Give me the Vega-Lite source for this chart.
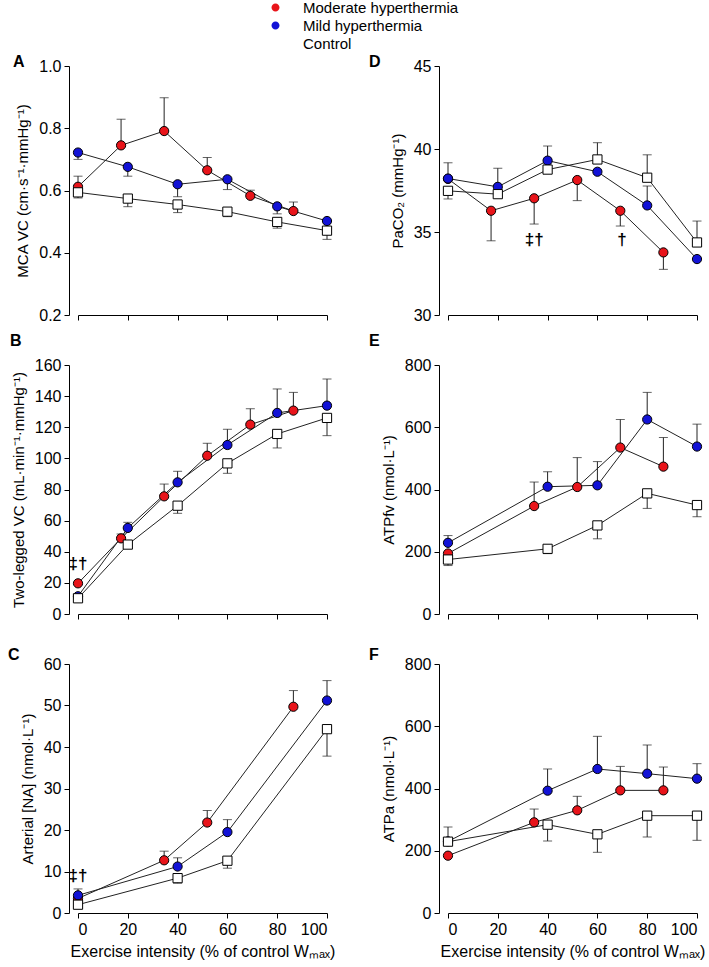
{
  "$schema": "https://vega.github.io/schema/vega-lite/v6.json",
  "background": "white",
  "padding": {"left": 8, "top": 0, "right": 5, "bottom": 5},
  "bounds": "flush",
  "columns": 2,
  "spacing": {"row": 50, "column": 121},
  "datasets": {
    "d": [
      {"p": "A", "g": "Moderate hyperthermia", "x": 0, "y": 0.612, "e": 0.646},
      {"p": "A", "g": "Moderate hyperthermia", "x": 17.3, "y": 0.745, "e": 0.829},
      {"p": "A", "g": "Moderate hyperthermia", "x": 34.6, "y": 0.791, "e": 0.898},
      {"p": "A", "g": "Moderate hyperthermia", "x": 51.9, "y": 0.665, "e": 0.706},
      {"p": "A", "g": "Moderate hyperthermia", "x": 69.2, "y": 0.583, "e": 0.601},
      {"p": "A", "g": "Moderate hyperthermia", "x": 86.5, "y": 0.534, "e": 0.563},
      {"p": "A", "g": "Mild hyperthermia", "x": 0, "y": 0.722, "e": 0.70},
      {"p": "A", "g": "Mild hyperthermia", "x": 20, "y": 0.676, "e": 0.646},
      {"p": "A", "g": "Mild hyperthermia", "x": 40, "y": 0.620, "e": 0.580},
      {"p": "A", "g": "Mild hyperthermia", "x": 60, "y": 0.636, "e": 0.603},
      {"p": "A", "g": "Mild hyperthermia", "x": 80, "y": 0.549, "e": 0.525},
      {"p": "A", "g": "Mild hyperthermia", "x": 100, "y": 0.502, "e": null},
      {"p": "A", "g": "Control", "x": 0, "y": 0.594, "e": 0.576},
      {"p": "A", "g": "Control", "x": 20, "y": 0.574, "e": 0.548},
      {"p": "A", "g": "Control", "x": 40, "y": 0.555, "e": 0.529},
      {"p": "A", "g": "Control", "x": 60, "y": 0.532, "e": 0.516},
      {"p": "A", "g": "Control", "x": 80, "y": 0.499, "e": 0.479},
      {"p": "A", "g": "Control", "x": 100, "y": 0.471, "e": 0.443},

      {"p": "D", "g": "Moderate hyperthermia", "x": 0, "y": 38.2, "e": null},
      {"p": "D", "g": "Moderate hyperthermia", "x": 17.3, "y": 36.28, "e": 34.47},
      {"p": "D", "g": "Moderate hyperthermia", "x": 34.6, "y": 37.03, "e": 35.48},
      {"p": "D", "g": "Moderate hyperthermia", "x": 51.9, "y": 38.13, "e": 36.89},
      {"p": "D", "g": "Moderate hyperthermia", "x": 69.2, "y": 36.28, "e": 35.36},
      {"p": "D", "g": "Moderate hyperthermia", "x": 86.5, "y": 33.77, "e": 32.75},
      {"p": "D", "g": "Mild hyperthermia", "x": 0, "y": 38.22, "e": 39.17},
      {"p": "D", "g": "Mild hyperthermia", "x": 20, "y": 37.72, "e": 38.84},
      {"p": "D", "g": "Mild hyperthermia", "x": 40, "y": 39.30, "e": 40.18},
      {"p": "D", "g": "Mild hyperthermia", "x": 60, "y": 38.63, "e": null},
      {"p": "D", "g": "Mild hyperthermia", "x": 80, "y": 36.6, "e": 37.77},
      {"p": "D", "g": "Mild hyperthermia", "x": 100, "y": 33.37, "e": null},
      {"p": "D", "g": "Control", "x": 0, "y": 37.48, "e": 36.99},
      {"p": "D", "g": "Control", "x": 20, "y": 37.28, "e": null},
      {"p": "D", "g": "Control", "x": 40, "y": 38.76, "e": null},
      {"p": "D", "g": "Control", "x": 60, "y": 39.37, "e": 40.38},
      {"p": "D", "g": "Control", "x": 80, "y": 38.27, "e": 39.65},
      {"p": "D", "g": "Control", "x": 100, "y": 34.37, "e": 35.66},

      {"p": "B", "g": "Moderate hyperthermia", "x": 0, "y": 19.7, "e": null},
      {"p": "B", "g": "Moderate hyperthermia", "x": 17.3, "y": 48.6, "e": 51.4},
      {"p": "B", "g": "Moderate hyperthermia", "x": 34.6, "y": 75.6, "e": 83.5},
      {"p": "B", "g": "Moderate hyperthermia", "x": 51.9, "y": 101.7, "e": 109.7},
      {"p": "B", "g": "Moderate hyperthermia", "x": 69.2, "y": 121.7, "e": 131.9},
      {"p": "B", "g": "Moderate hyperthermia", "x": 86.5, "y": 130.7, "e": 142.4},
      {"p": "B", "g": "Mild hyperthermia", "x": 0, "y": 11.4, "e": null},
      {"p": "B", "g": "Mild hyperthermia", "x": 20, "y": 55.3, "e": 58.9},
      {"p": "B", "g": "Mild hyperthermia", "x": 40, "y": 84.6, "e": 91.7},
      {"p": "B", "g": "Mild hyperthermia", "x": 60, "y": 108.6, "e": 118.7},
      {"p": "B", "g": "Mild hyperthermia", "x": 80, "y": 129.2, "e": 144.6},
      {"p": "B", "g": "Mild hyperthermia", "x": 100, "y": 133.9, "e": 151.0},
      {"p": "B", "g": "Control", "x": 0, "y": 10.1, "e": null},
      {"p": "B", "g": "Control", "x": 20, "y": 44.6, "e": null},
      {"p": "B", "g": "Control", "x": 40, "y": 69.6, "e": 64.7},
      {"p": "B", "g": "Control", "x": 60, "y": 96.8, "e": 90.4},
      {"p": "B", "g": "Control", "x": 80, "y": 115.7, "e": 106.7},
      {"p": "B", "g": "Control", "x": 100, "y": 126.0, "e": 114.6},

      {"p": "E", "g": "Moderate hyperthermia", "x": 0, "y": 194.4, "e": null},
      {"p": "E", "g": "Moderate hyperthermia", "x": 34.6, "y": 346.8, "e": 424},
      {"p": "E", "g": "Moderate hyperthermia", "x": 51.9, "y": 408, "e": 502.5},
      {"p": "E", "g": "Moderate hyperthermia", "x": 69.2, "y": 534.8, "e": 625},
      {"p": "E", "g": "Moderate hyperthermia", "x": 86.5, "y": 473.5, "e": 567},
      {"p": "E", "g": "Mild hyperthermia", "x": 0, "y": 228.7, "e": 252},
      {"p": "E", "g": "Mild hyperthermia", "x": 40, "y": 409, "e": 457},
      {"p": "E", "g": "Mild hyperthermia", "x": 60, "y": 413.4, "e": 489.7},
      {"p": "E", "g": "Mild hyperthermia", "x": 80, "y": 625, "e": 712},
      {"p": "E", "g": "Mild hyperthermia", "x": 100, "y": 538, "e": 610},
      {"p": "E", "g": "Control", "x": 0, "y": 175, "e": 155.7},
      {"p": "E", "g": "Control", "x": 40, "y": 209.4, "e": 194},
      {"p": "E", "g": "Control", "x": 60, "y": 284.6, "e": 241.6},
      {"p": "E", "g": "Control", "x": 80, "y": 387.6, "e": 339.3},
      {"p": "E", "g": "Control", "x": 100, "y": 350, "e": 312.5},

      {"p": "C", "g": "Moderate hyperthermia", "x": 0, "y": 3.5, "e": null},
      {"p": "C", "g": "Moderate hyperthermia", "x": 34.6, "y": 12.7, "e": 14.9},
      {"p": "C", "g": "Moderate hyperthermia", "x": 51.9, "y": 21.8, "e": 24.7},
      {"p": "C", "g": "Moderate hyperthermia", "x": 86.5, "y": 49.7, "e": 53.6},
      {"p": "C", "g": "Mild hyperthermia", "x": 0, "y": 4.26, "e": 5.8},
      {"p": "C", "g": "Mild hyperthermia", "x": 40, "y": 11.2, "e": 13.3},
      {"p": "C", "g": "Mild hyperthermia", "x": 60, "y": 19.5, "e": 22.5},
      {"p": "C", "g": "Mild hyperthermia", "x": 100, "y": 51.2, "e": 56.0},
      {"p": "C", "g": "Control", "x": 0, "y": 2.0, "e": null},
      {"p": "C", "g": "Control", "x": 40, "y": 8.4, "e": 7.2},
      {"p": "C", "g": "Control", "x": 60, "y": 12.6, "e": 10.8},
      {"p": "C", "g": "Control", "x": 100, "y": 44.3, "e": 37.8},

      {"p": "F", "g": "Moderate hyperthermia", "x": 0, "y": 184.2, "e": null},
      {"p": "F", "g": "Moderate hyperthermia", "x": 34.6, "y": 291.3, "e": 334},
      {"p": "F", "g": "Moderate hyperthermia", "x": 51.9, "y": 329.9, "e": 374.9},
      {"p": "F", "g": "Moderate hyperthermia", "x": 69.2, "y": 394, "e": 471},
      {"p": "F", "g": "Moderate hyperthermia", "x": 86.5, "y": 394, "e": 469},
      {"p": "F", "g": "Mild hyperthermia", "x": 0, "y": 230, "e": null},
      {"p": "F", "g": "Mild hyperthermia", "x": 40, "y": 393, "e": 462.7},
      {"p": "F", "g": "Mild hyperthermia", "x": 60, "y": 462.7, "e": 567.6},
      {"p": "F", "g": "Mild hyperthermia", "x": 80, "y": 447.7, "e": 539.8},
      {"p": "F", "g": "Mild hyperthermia", "x": 100, "y": 431.6, "e": 479.8},
      {"p": "F", "g": "Control", "x": 0, "y": 229.2, "e": 276.3},
      {"p": "F", "g": "Control", "x": 40, "y": 283.8, "e": 231.3},
      {"p": "F", "g": "Control", "x": 60, "y": 252.8, "e": 195},
      {"p": "F", "g": "Control", "x": 80, "y": 312.7, "e": 244.2},
      {"p": "F", "g": "Control", "x": 100, "y": 312.7, "e": 233.5}
    ],
    "ann": [
      {"p": "B", "x": 0, "y": 32, "t": "‡†"},
      {"p": "C", "x": 0, "y": 8.8, "t": "‡†"},
      {"p": "D", "x": 34.6, "y": 34.5, "t": "‡†"},
      {"p": "D", "x": 69.9, "y": 34.5, "t": "†"}
    ]
  },
  "concat": [
    {
      "title": {"text": "A", "dx": -65, "offset": -12},
      "width": 249, "height": 249,
      "encoding": {
        "x": {"field": "x", "type": "quantitative", "scale": {"domain": [0, 100], "nice": false, "zero": false}, "axis": {"values": [0, 20, 40, 60, 80, 100], "labels": false, "title": null}},
        "y": {"field": "y", "type": "quantitative", "scale": {"domain": [0.2, 1.0], "nice": false, "zero": false}, "axis": {"values": [0.2, 0.4, 0.6, 0.8, 1.0], "format": ".1f", "title": "MCA VC (cm·s⁻¹·mmHg⁻¹)"}}
      },
      "layer": [
        {"data": {"name": "d"}, "transform": [{"filter": "datum.p === 'A'"}], "mark": {"type": "point", "opacity": 0, "filled": true, "size": 1},
         "encoding": {"fill": {"field": "g", "type": "nominal", "scale": {"domain": ["Moderate hyperthermia", "Mild hyperthermia", "Control"], "range": ["#e8141a", "#1212d6", "#ffffff"]},
           "legend": {"title": null, "orient": "none", "legendX": 190, "legendY": -66, "labelFontSize": 15, "labelOffset": 20, "symbolSize": 64, "symbolStrokeColor": "black", "symbolStrokeWidth": 1, "symbolOpacity": 1, "rowPadding": 2}},
           "shape": {"field": "g", "type": "nominal", "scale": {"domain": ["Moderate hyperthermia", "Mild hyperthermia", "Control"], "range": ["M-4.25,0L-1,0M1,0L4.25,0M-1,0A1,1,0,1,1,1,0A1,1,0,1,1,-1,0Z", "M-4.25,0L-1,0M1,0L4.25,0M-1,0A1,1,0,1,1,1,0A1,1,0,1,1,-1,0Z", "M-4.25,0L-1,0M1,0L4.25,0M-1,-1L1,-1L1,1L-1,1Z"]},
           "legend": {"title": null, "orient": "none", "legendX": 190, "legendY": -66, "labelFontSize": 15, "labelOffset": 20, "symbolSize": 64, "symbolStrokeColor": "black", "symbolStrokeWidth": 1, "symbolOpacity": 1, "rowPadding": 2}}}},
        {"data": {"name": "d"}, "transform": [{"filter": "datum.p === 'A'"}], "mark": {"type": "line", "color": "#222222", "strokeWidth": 1}, "encoding": {"detail": {"field": "g"}}},
        {"data": {"name": "d"}, "transform": [{"filter": "datum.p === 'A' && isValid(datum.e)"}], "mark": {"type": "rule", "color": "#222222", "strokeWidth": 1}, "encoding": {"y2": {"field": "e"}}},
        {"data": {"name": "d"}, "transform": [{"filter": "datum.p === 'A' && isValid(datum.e)"}], "mark": {"type": "tick", "orient": "horizontal", "size": 9, "thickness": 1, "color": "#222222"}, "encoding": {"y": {"field": "e", "type": "quantitative"}}},
        {"data": {"name": "d"}, "transform": [{"filter": "datum.p === 'A' && datum.g !== 'Control'"}], "mark": {"type": "point", "shape": "circle", "filled": true, "opacity": 1, "stroke": "black", "strokeWidth": 1, "size": 85}, "encoding": {"fill": {"field": "g", "type": "nominal"}}},
        {"data": {"name": "d"}, "transform": [{"filter": "datum.p === 'A' && datum.g === 'Control'"}], "mark": {"type": "point", "shape": "square", "filled": true, "opacity": 1, "stroke": "black", "strokeWidth": 1, "size": 85}, "encoding": {"fill": {"field": "g", "type": "nominal"}}}
      ]
    },
    {
      "title": {"text": "D", "dx": -79, "offset": -12},
      "width": 249, "height": 249,
      "encoding": {
        "x": {"field": "x", "type": "quantitative", "scale": {"domain": [0, 100], "nice": false, "zero": false}, "axis": {"values": [0, 20, 40, 60, 80, 100], "labels": false, "title": null}},
        "y": {"field": "y", "type": "quantitative", "scale": {"domain": [30, 45], "nice": false, "zero": false}, "axis": {"values": [30, 35, 40, 45], "title": "PaCO₂ (mmHg⁻¹)"}}
      },
      "layer": [
        {"data": {"name": "d"}, "transform": [{"filter": "datum.p === 'D'"}], "mark": {"type": "line", "color": "#222222", "strokeWidth": 1}, "encoding": {"detail": {"field": "g"}}},
        {"data": {"name": "d"}, "transform": [{"filter": "datum.p === 'D' && isValid(datum.e)"}], "mark": {"type": "rule", "color": "#222222", "strokeWidth": 1}, "encoding": {"y2": {"field": "e"}}},
        {"data": {"name": "d"}, "transform": [{"filter": "datum.p === 'D' && isValid(datum.e)"}], "mark": {"type": "tick", "orient": "horizontal", "size": 9, "thickness": 1, "color": "#222222"}, "encoding": {"y": {"field": "e", "type": "quantitative"}}},
        {"data": {"name": "d"}, "transform": [{"filter": "datum.p === 'D' && datum.g !== 'Control'"}], "mark": {"type": "point", "shape": "circle", "filled": true, "opacity": 1, "stroke": "black", "strokeWidth": 1, "size": 85}, "encoding": {"fill": {"field": "g", "type": "nominal"}}},
        {"data": {"name": "d"}, "transform": [{"filter": "datum.p === 'D' && datum.g === 'Control'"}], "mark": {"type": "point", "shape": "square", "filled": true, "opacity": 1, "stroke": "black", "strokeWidth": 1, "size": 85}, "encoding": {"fill": {"field": "g", "type": "nominal"}}},
        {"data": {"name": "ann"}, "transform": [{"filter": "datum.p === 'D'"}], "mark": {"type": "text", "fontSize": 17, "fontWeight": "bold", "color": "black"}, "encoding": {"text": {"field": "t"}}}
      ]
    },
    {
      "title": {"text": "B", "dx": -68, "offset": 8},
      "width": 249, "height": 249,
      "encoding": {
        "x": {"field": "x", "type": "quantitative", "scale": {"domain": [0, 100], "nice": false, "zero": false}, "axis": {"values": [0, 20, 40, 60, 80, 100], "labels": false, "title": null}},
        "y": {"field": "y", "type": "quantitative", "scale": {"domain": [0, 160], "nice": false, "zero": false}, "axis": {"values": [0, 20, 40, 60, 80, 100, 120, 140, 160], "title": "Two-legged VC (mL·min⁻¹·mmHg⁻¹)"}}
      },
      "layer": [
        {"data": {"name": "d"}, "transform": [{"filter": "datum.p === 'B'"}], "mark": {"type": "line", "color": "#222222", "strokeWidth": 1}, "encoding": {"detail": {"field": "g"}}},
        {"data": {"name": "d"}, "transform": [{"filter": "datum.p === 'B' && isValid(datum.e)"}], "mark": {"type": "rule", "color": "#222222", "strokeWidth": 1}, "encoding": {"y2": {"field": "e"}}},
        {"data": {"name": "d"}, "transform": [{"filter": "datum.p === 'B' && isValid(datum.e)"}], "mark": {"type": "tick", "orient": "horizontal", "size": 9, "thickness": 1, "color": "#222222"}, "encoding": {"y": {"field": "e", "type": "quantitative"}}},
        {"data": {"name": "d"}, "transform": [{"filter": "datum.p === 'B' && datum.g !== 'Control'"}], "mark": {"type": "point", "shape": "circle", "filled": true, "opacity": 1, "stroke": "black", "strokeWidth": 1, "size": 85}, "encoding": {"fill": {"field": "g", "type": "nominal"}}},
        {"data": {"name": "d"}, "transform": [{"filter": "datum.p === 'B' && datum.g === 'Control'"}], "mark": {"type": "point", "shape": "square", "filled": true, "opacity": 1, "stroke": "black", "strokeWidth": 1, "size": 85}, "encoding": {"fill": {"field": "g", "type": "nominal"}}},
        {"data": {"name": "ann"}, "transform": [{"filter": "datum.p === 'B'"}], "mark": {"type": "text", "fontSize": 17, "fontWeight": "bold", "color": "black"}, "encoding": {"text": {"field": "t"}}}
      ]
    },
    {
      "title": {"text": "E", "dx": -79, "offset": 8},
      "width": 249, "height": 249,
      "encoding": {
        "x": {"field": "x", "type": "quantitative", "scale": {"domain": [0, 100], "nice": false, "zero": false}, "axis": {"values": [0, 20, 40, 60, 80, 100], "labels": false, "title": null}},
        "y": {"field": "y", "type": "quantitative", "scale": {"domain": [0, 800], "nice": false, "zero": false}, "axis": {"values": [0, 200, 400, 600, 800], "title": "ATPfv (nmol·L⁻¹)"}}
      },
      "layer": [
        {"data": {"name": "d"}, "transform": [{"filter": "datum.p === 'E'"}], "mark": {"type": "line", "color": "#222222", "strokeWidth": 1}, "encoding": {"detail": {"field": "g"}}},
        {"data": {"name": "d"}, "transform": [{"filter": "datum.p === 'E' && isValid(datum.e)"}], "mark": {"type": "rule", "color": "#222222", "strokeWidth": 1}, "encoding": {"y2": {"field": "e"}}},
        {"data": {"name": "d"}, "transform": [{"filter": "datum.p === 'E' && isValid(datum.e)"}], "mark": {"type": "tick", "orient": "horizontal", "size": 9, "thickness": 1, "color": "#222222"}, "encoding": {"y": {"field": "e", "type": "quantitative"}}},
        {"data": {"name": "d"}, "transform": [{"filter": "datum.p === 'E' && datum.g !== 'Control'"}], "mark": {"type": "point", "shape": "circle", "filled": true, "opacity": 1, "stroke": "black", "strokeWidth": 1, "size": 85}, "encoding": {"fill": {"field": "g", "type": "nominal"}}},
        {"data": {"name": "d"}, "transform": [{"filter": "datum.p === 'E' && datum.g === 'Control'"}], "mark": {"type": "point", "shape": "square", "filled": true, "opacity": 1, "stroke": "black", "strokeWidth": 1, "size": 85}, "encoding": {"fill": {"field": "g", "type": "nominal"}}}
      ]
    },
    {
      "title": {"text": "C", "dx": -70, "offset": -7},
      "width": 249, "height": 249,
      "encoding": {
        "x": {"field": "x", "type": "quantitative", "scale": {"domain": [0, 100], "nice": false, "zero": false}, "axis": {"values": [0, 20, 40, 60, 80, 100], "title": "Exercise intensity (% of control Wₘₐₓ)"}},
        "y": {"field": "y", "type": "quantitative", "scale": {"domain": [0, 60], "nice": false, "zero": false}, "axis": {"values": [0, 10, 20, 30, 40, 50, 60], "title": "Arterial [NA] (nmol·L⁻¹)"}}
      },
      "layer": [
        {"data": {"name": "d"}, "transform": [{"filter": "datum.p === 'C'"}], "mark": {"type": "line", "color": "#222222", "strokeWidth": 1}, "encoding": {"detail": {"field": "g"}}},
        {"data": {"name": "d"}, "transform": [{"filter": "datum.p === 'C' && isValid(datum.e)"}], "mark": {"type": "rule", "color": "#222222", "strokeWidth": 1}, "encoding": {"y2": {"field": "e"}}},
        {"data": {"name": "d"}, "transform": [{"filter": "datum.p === 'C' && isValid(datum.e)"}], "mark": {"type": "tick", "orient": "horizontal", "size": 9, "thickness": 1, "color": "#222222"}, "encoding": {"y": {"field": "e", "type": "quantitative"}}},
        {"data": {"name": "d"}, "transform": [{"filter": "datum.p === 'C' && datum.g !== 'Control'"}], "mark": {"type": "point", "shape": "circle", "filled": true, "opacity": 1, "stroke": "black", "strokeWidth": 1, "size": 85}, "encoding": {"fill": {"field": "g", "type": "nominal"}}},
        {"data": {"name": "d"}, "transform": [{"filter": "datum.p === 'C' && datum.g === 'Control'"}], "mark": {"type": "point", "shape": "square", "filled": true, "opacity": 1, "stroke": "black", "strokeWidth": 1, "size": 85}, "encoding": {"fill": {"field": "g", "type": "nominal"}}},
        {"data": {"name": "ann"}, "transform": [{"filter": "datum.p === 'C'"}], "mark": {"type": "text", "fontSize": 17, "fontWeight": "bold", "color": "black"}, "encoding": {"text": {"field": "t"}}}
      ]
    },
    {
      "title": {"text": "F", "dx": -79, "offset": -7},
      "width": 249, "height": 249,
      "encoding": {
        "x": {"field": "x", "type": "quantitative", "scale": {"domain": [0, 100], "nice": false, "zero": false}, "axis": {"values": [0, 20, 40, 60, 80, 100], "title": "Exercise intensity (% of control Wₘₐₓ)"}},
        "y": {"field": "y", "type": "quantitative", "scale": {"domain": [0, 800], "nice": false, "zero": false}, "axis": {"values": [0, 200, 400, 600, 800], "title": "ATPa (nmol·L⁻¹)"}}
      },
      "layer": [
        {"data": {"name": "d"}, "transform": [{"filter": "datum.p === 'F'"}], "mark": {"type": "line", "color": "#222222", "strokeWidth": 1}, "encoding": {"detail": {"field": "g"}}},
        {"data": {"name": "d"}, "transform": [{"filter": "datum.p === 'F' && isValid(datum.e)"}], "mark": {"type": "rule", "color": "#222222", "strokeWidth": 1}, "encoding": {"y2": {"field": "e"}}},
        {"data": {"name": "d"}, "transform": [{"filter": "datum.p === 'F' && isValid(datum.e)"}], "mark": {"type": "tick", "orient": "horizontal", "size": 9, "thickness": 1, "color": "#222222"}, "encoding": {"y": {"field": "e", "type": "quantitative"}}},
        {"data": {"name": "d"}, "transform": [{"filter": "datum.p === 'F' && datum.g !== 'Control'"}], "mark": {"type": "point", "shape": "circle", "filled": true, "opacity": 1, "stroke": "black", "strokeWidth": 1, "size": 85}, "encoding": {"fill": {"field": "g", "type": "nominal"}}},
        {"data": {"name": "d"}, "transform": [{"filter": "datum.p === 'F' && datum.g === 'Control'"}], "mark": {"type": "point", "shape": "square", "filled": true, "opacity": 1, "stroke": "black", "strokeWidth": 1, "size": 85}, "encoding": {"fill": {"field": "g", "type": "nominal"}}}
      ]
    }
  ],
  "config": {
    "font": "Liberation Sans",
    "view": {"stroke": null},
    "title": {"anchor": "start", "frame": "group", "fontSize": 16, "fontWeight": "bold", "color": "black", "font": "Liberation Sans"},
    "axis": {"domainColor": "black", "tickColor": "black", "labelColor": "black", "titleColor": "black", "labelFont": "Liberation Sans", "titleFont": "Liberation Sans", "labelFontSize": 16, "titleFontSize": 15, "titleFontWeight": "normal", "grid": false, "tickSize": 5, "labelPadding": 3, "domainWidth": 1, "tickWidth": 1, "titleLimit": 500},
    "axisY": {"offset": 9, "titlePadding": 8},
    "axisX": {"titlePadding": 6, "titleFontSize": 16},
    "legend": {"labelFont": "Liberation Sans", "labelColor": "black"}
  }
}
